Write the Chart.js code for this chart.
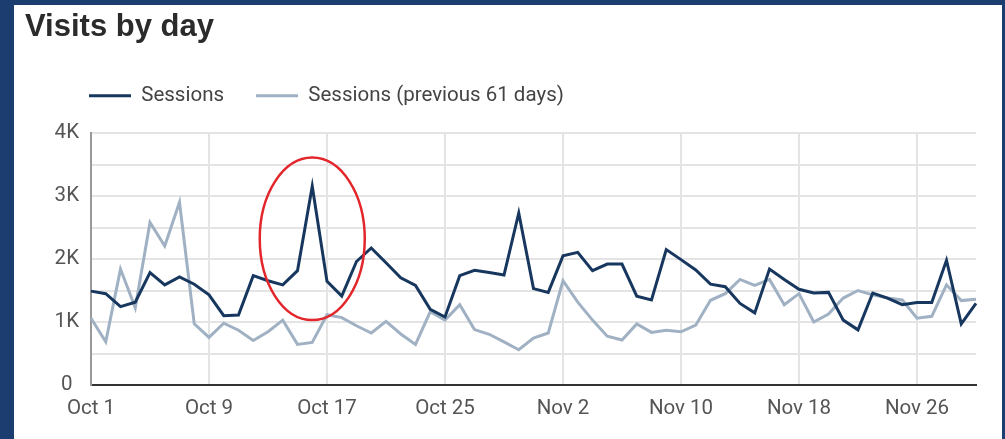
<!DOCTYPE html>
<html>
<head>
<meta charset="utf-8">
<title>Visits by day</title>
<script src="https://cdn.jsdelivr.net/npm/chart.js"></script>
<style>
  html, body { margin: 0; padding: 0; }
  body { width: 1005px; height: 439px; background: #1c3d6f; overflow: hidden; position: relative; }
  #panel { position: absolute; left: 14px; top: 5px; width: 988px; height: 434px; background: #fff; }
  #panel canvas { display: block; }
</style>
</head>
<body>
<div id="panel"><canvas id="visitsChart" width="988" height="434"></canvas></div>
<script>
// days, Oct 1 - Nov 30
const days = [
  'Oct 1', 'Oct 2', 'Oct 3', 'Oct 4', 'Oct 5', 'Oct 6', 'Oct 7', 'Oct 8', 'Oct 9', 'Oct 10',
  'Oct 11', 'Oct 12', 'Oct 13', 'Oct 14', 'Oct 15', 'Oct 16', 'Oct 17', 'Oct 18', 'Oct 19', 'Oct 20',
  'Oct 21', 'Oct 22', 'Oct 23', 'Oct 24', 'Oct 25', 'Oct 26', 'Oct 27', 'Oct 28', 'Oct 29', 'Oct 30',
  'Oct 31', 'Nov 1', 'Nov 2', 'Nov 3', 'Nov 4', 'Nov 5', 'Nov 6', 'Nov 7', 'Nov 8', 'Nov 9',
  'Nov 10', 'Nov 11', 'Nov 12', 'Nov 13', 'Nov 14', 'Nov 15', 'Nov 16', 'Nov 17', 'Nov 18', 'Nov 19',
  'Nov 20', 'Nov 21', 'Nov 22', 'Nov 23', 'Nov 24', 'Nov 25', 'Nov 26', 'Nov 27', 'Nov 28', 'Nov 29',
  'Nov 30'
];

// labels shown on the x axis
const dayTicks = ['Oct 1', 'Oct 9', 'Oct 17', 'Oct 25', 'Nov 2', 'Nov 10', 'Nov 18', 'Nov 26'];

const sessions = [
  1490, 1450, 1245, 1315, 1785, 1590, 1715, 1600, 1430, 1100,
  1110, 1735, 1655, 1590, 1815, 3155, 1645, 1410, 1960, 2175,
  1940, 1700, 1580, 1200, 1080, 1735, 1820, 1785, 1745, 2730,
  1530, 1470, 2050, 2105, 1815, 1920, 1920, 1410, 1350, 2150,
  1990, 1825, 1600, 1560, 1295, 1145, 1840, 1675, 1520, 1460,
  1470, 1030, 875, 1460, 1380, 1275, 1310, 1310, 1980, 970,
  1295
];

const sessionsPrev = [
  1060, 685, 1840, 1225, 2580, 2205, 2900, 970, 755, 980,
  870, 705, 845, 1030, 645, 675, 1115, 1070, 940, 825,
  1010, 810, 645, 1165, 1030, 1275, 880, 805, 685, 560,
  745, 825, 1655, 1315, 1030, 775, 715, 970, 835, 870,
  845, 950, 1345, 1450, 1675, 1580, 1675, 1275, 1450, 1000,
  1125, 1380, 1500, 1430, 1380, 1350, 1060, 1090, 1590, 1340,
  1360
];

// y axis: 0..4K, grid every 500, label every 1K
const yMax = 4000;
const yStep = 500;

// red ring round the Oct 16 spike
const spike = { index: 15, value: 2320, halfDays: 3.56, halfValue: 1290 };

const tickFont = { family: "Roboto, 'Noto Sans', sans-serif", size: 20.5 };

const extras = {
  id: 'extras',
  afterLayout(chart) {
    // legend lines up with the plot's left edge, a bit higher up
    const lg = chart.legend;
    const dx = chart.chartArea.left - 2 - (lg.left + lg.options.labels.padding);
    const dy = -17;
    lg.left += dx; lg.right += dx;
    lg.top += dy; lg.bottom += dy;
  },
  afterDatasetsDraw(chart) {
    const { ctx, scales: { x, y } } = chart;
    const cx = x.getPixelForValue(spike.index);
    const cy = y.getPixelForValue(spike.value);
    const rx = x.getPixelForValue(spike.index + spike.halfDays) - cx;
    const ry = cy - y.getPixelForValue(spike.value + spike.halfValue);
    ctx.save();
    ctx.beginPath();
    ctx.ellipse(cx, cy, rx, ry, 0, 0, Math.PI * 2);
    ctx.strokeStyle = '#e3262b';
    ctx.lineWidth = 2.5;
    ctx.stroke();
    ctx.restore();
  }
};

const ctx = document.getElementById('visitsChart').getContext('2d');
new Chart(ctx, {
  type: 'line',
  data: {
    labels: days,
    datasets: [
      {
        label: 'Sessions',
        data: sessions,
        borderColor: '#17375f',
        backgroundColor: '#17375f',
        borderWidth: 3,
        pointRadius: 0,
        tension: 0
      },
      {
        label: 'Sessions (previous 61 days)',
        data: sessionsPrev,
        borderColor: '#a0b1c3',
        backgroundColor: '#a0b1c3',
        borderWidth: 3,
        pointRadius: 0,
        tension: 0
      }
    ]
  },
  options: {
    responsive: false,
    animation: false,
    layout: { padding: { left: 11, right: 26, top: 0, bottom: 0 } },
    plugins: {
      title: {
        display: true,
        text: 'Visits by day',
        align: 'start',
        color: '#2b2b2b',
        font: { family: "'Liberation Sans', Arial, sans-serif", size: 31, weight: 'bold' },
        padding: { top: 4, bottom: 24.3 }
      },
      legend: {
        position: 'top',
        align: 'start',
        labels: {
          usePointStyle: true,
          pointStyle: 'line',
          pointStyleWidth: 42,
          padding: 32,
          color: '#444',
          font: tickFont
        }
      },
      tooltip: { enabled: false }
    },
    scales: {
      x: {
        type: 'category',
        afterBuildTicks: s => { s.ticks = s.ticks.filter(t => dayTicks.includes(days[t.value])); },
        afterFit: s => { s.height = 54; },
        ticks: { autoSkip: false, maxRotation: 0, padding: 12, color: '#555', font: tickFont },
        grid: { color: '#e4e4e4', lineWidth: 2, drawTicks: false },
        border: { display: true, color: '#333', width: 2 }
      },
      y: {
        min: 0,
        max: yMax,
        afterFit: s => { s.width = 66; },
        ticks: {
          stepSize: yStep,
          crossAlign: 'center',
          padding: 12,
          color: '#555',
          font: tickFont,
          callback: v => v === 0 ? '0' : (v % 1000 === 0 ? (v / 1000) + 'K' : '')
        },
        grid: { color: '#e4e4e4', lineWidth: 2, drawTicks: false },
        border: { display: true, color: '#999', width: 2 }
      }
    }
  },
  plugins: [extras]
});
</script>
</body>
</html>
